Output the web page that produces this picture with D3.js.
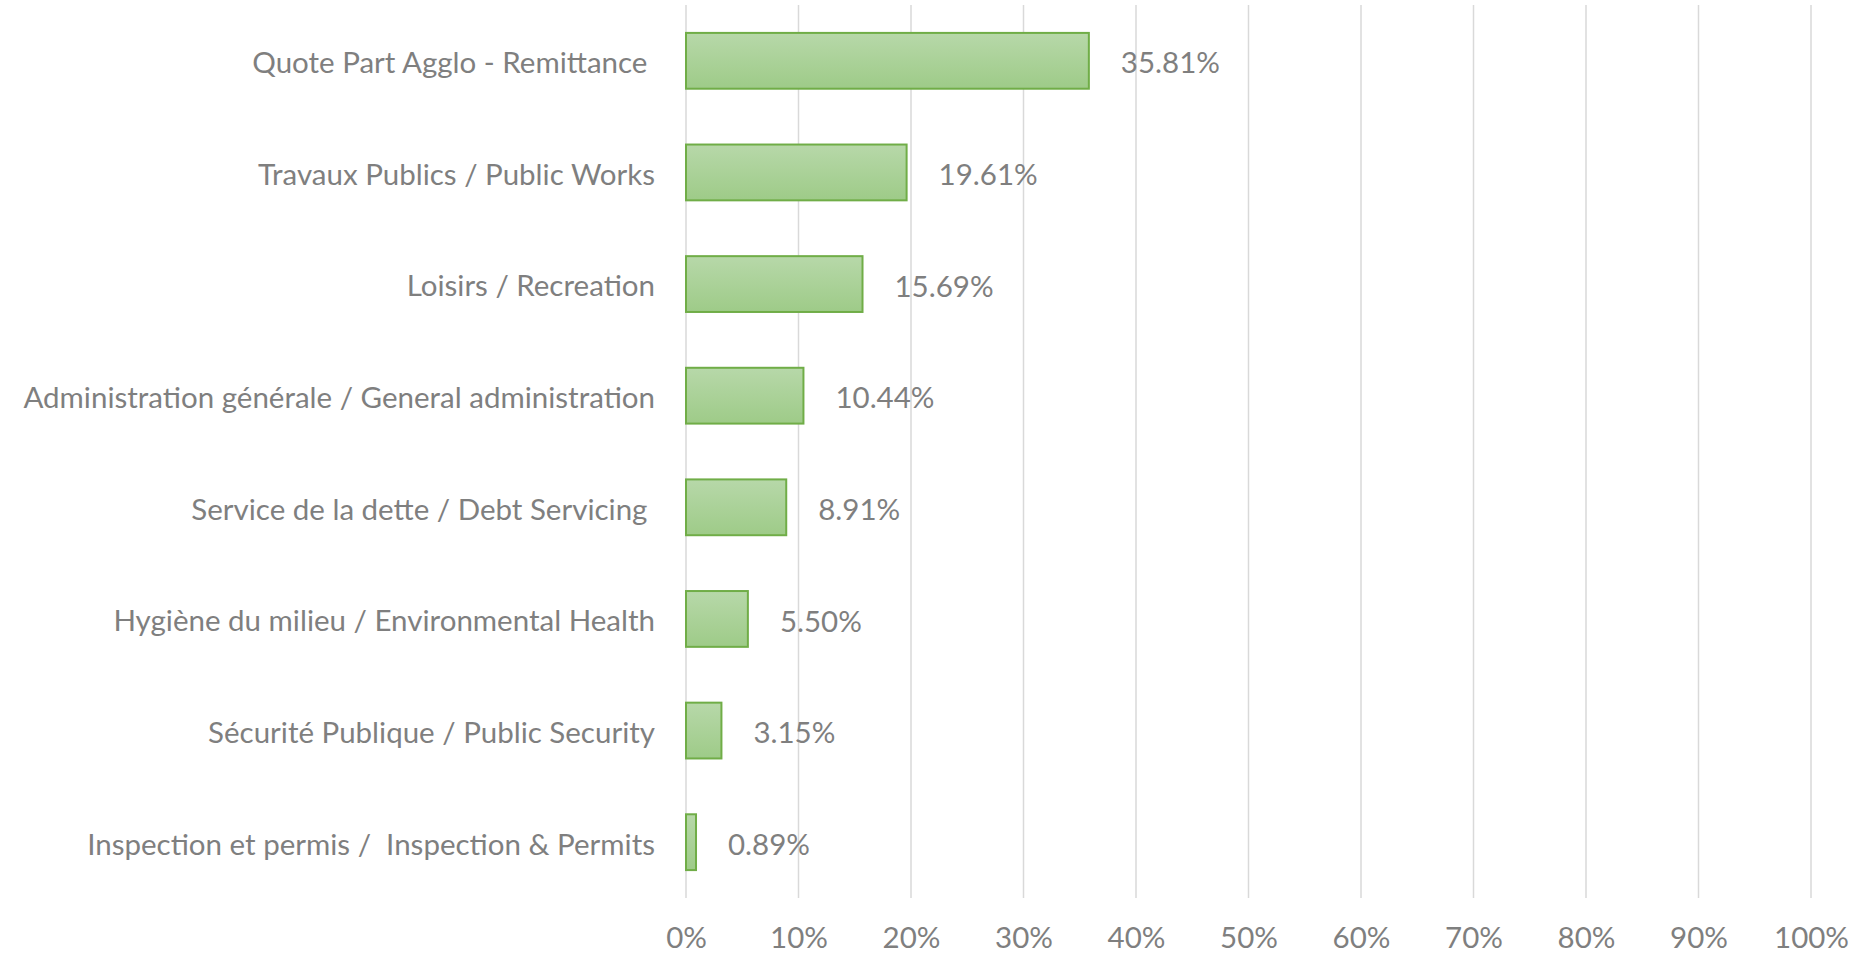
<!DOCTYPE html>
<html>
<head>
<meta charset="utf-8">
<script src="https://cdn.jsdelivr.net/npm/d3@7"></script>
<style>
  body { margin: 0; background: #fff; }
  svg { display: block; }
  text { font-family: Lato, "Open Sans", sans-serif; fill: #7f7f7f; }
</style>
</head>
<body>
<div id="chart"></div>
<script>
// categories, top to bottom
const categories = [
    "Quote Part Agglo - Remittance ",
    "Travaux Publics / Public Works",
    "Loisirs / Recreation",
    "Administration générale / General administration",
    "Service de la dette / Debt Servicing ",
    "Hygiène du milieu / Environmental Health",
    "Sécurité Publique / Public Security",
    "Inspection et permis /  Inspection & Permits"
]
const shares = [35.81, 19.61, 15.69, 10.44, 8.91, 5.50, 3.15, 0.89]
const xTicks = [0, 10, 20, 30, 40, 50, 60, 70, 80, 90, 100]

const width = 1864, height = 955
const plot = {left: 686, right: 1811, top: 5, bottom: 898}
const fontSize = 29.5

const svg = d3.select("#chart")
    .append("svg")
    .attr("width", width)
    .attr("height", height)

const grad = svg.append("defs")
    .append("linearGradient")
    .attr("id", "barFill")
    .attr("x1", 0).attr("y1", 0).attr("x2", 0).attr("y2", 1)
grad.append("stop").attr("offset", "0%").attr("stop-color", "#b7d8a9")
grad.append("stop").attr("offset", "100%").attr("stop-color", "#9ecb88")

const x = d3.scaleLinear()
    .domain([0, 100])
    .range([plot.left, plot.right])

const y = d3.scaleBand()
    .domain(categories)
    .range([plot.top, plot.bottom])
    .paddingInner(0.5)
    .paddingOuter(0.25)

// vertical gridlines
svg.append("g")
    .selectAll("line")
    .data(xTicks)
    .enter()
    .append("line")
    .attr("x1", d => x(d))
    .attr("x2", d => x(d))
    .attr("y1", plot.top)
    .attr("y2", plot.bottom)
    .attr("stroke", "#d9d9d9")
    .attr("stroke-width", 1.5)

// x axis labels (no domain line, no ticks)
const xAxis = svg.append("g")
    .attr("transform", "translate(0," + plot.bottom + ")")
    .call(d3.axisBottom(x).tickValues(xTicks).tickFormat(d => d + "%").tickSize(0).tickPadding(29))
xAxis.select(".domain").remove()
xAxis.selectAll("text")
    .attr("font-size", fontSize)
    .attr("fill", "#7f7f7f")
    .style("font-family", "Lato, 'Open Sans', sans-serif")

// category labels
const yAxis = svg.append("g")
    .attr("transform", "translate(" + (plot.left - 31) + ",0)")
    .call(d3.axisLeft(y).tickSize(0).tickPadding(0))
yAxis.select(".domain").remove()
yAxis.selectAll("text")
    .attr("font-size", fontSize)
    .attr("fill", "#7f7f7f")
    .attr("dy", "0.42em")
    .style("white-space", "pre")
    .style("font-family", "Lato, 'Open Sans', sans-serif")

// bars
svg.append("g")
    .selectAll("rect")
    .data(shares)
    .enter()
    .append("rect")
    .attr("x", x(0))
    .attr("y", (d, i) => y(categories[i]))
    .attr("width", d => x(d) - x(0))
    .attr("height", y.bandwidth())
    .attr("fill", "url(#barFill)")
    .attr("stroke", "#70ad47")
    .attr("stroke-width", 2)

// value labels
svg.append("g")
    .selectAll("text")
    .data(shares)
    .enter()
    .append("text")
    .attr("x", d => x(d) + 32)
    .attr("y", (d, i) => y(categories[i]) + y.bandwidth() / 2 + 2)
    .attr("dy", "0.36em")
    .attr("font-size", fontSize)
    .text(d => d.toFixed(2) + "%")
</script>
</body>
</html>
